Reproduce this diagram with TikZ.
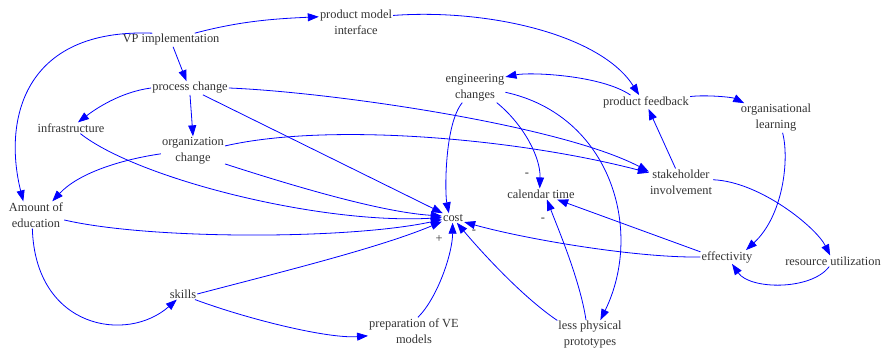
\documentclass[tikz,border=0pt]{standalone}
\usepackage{fontspec}
\setmainfont{Liberation Serif}
\usetikzlibrary{arrows.meta}
\begin{document}
\begin{tikzpicture}[x=1pt,y=-1pt,
  lbl/.style={font=\fontsize{12.4}{16}\selectfont, text=black!80, inner sep=1pt, align=center},
  sgn/.style={font=\fontsize{12.4}{16}\selectfont, text=black!80, inner sep=0pt},
  link/.style={draw=blue, line width=0.8pt, -{Triangle[length=11pt,width=8pt]}}]
\useasboundingbox (0,0) rectangle (884,352);
% nodes
\node[lbl] (vp)   at (171,40)  {VP implementation};
\node[lbl] (pmi)  at (356,22)  {product model\\interface};
\node[lbl] (pc)   at (190,88)  {process change};
\node[lbl] (inf)  at (71,128)  {infrastructure};
\node[lbl] (oc)   at (193,151) {organization\\change};
\node[lbl] (aoe)  at (36,215)  {Amount of\\education};
\node[lbl] (sk)   at (183,294) {skills};
\node[lbl] (prep) at (414,331) {preparation of VE\\models};
\node[lbl] (cost) at (453,218) {cost};
\node[lbl] (cal)  at (541,194) {calendar time};
\node[lbl] (eng)  at (475,88)  {engineering\\changes};
\node[lbl] (pf)   at (646,102) {product feedback};
\node[lbl] (ol)   at (776,118) {organisational\\learning};
\node[lbl] (sh)   at (681,182) {stakeholder\\involvement};
\node[lbl] (eff)  at (727,257) {effectivity};
\node[lbl] (ru)   at (833,261) {resource utilization};
\node[lbl] (lpp)  at (590,335) {less physical\\prototypes};
% signs
\node[sgn] (s1) at (527,175) {-};
\node[sgn] (s2) at (543,220) {-};
\node[sgn] (s3) at (439,239) {+};
\node[sgn] (s4) at (474,232) {-};
% links
\draw[link] (vp.16) .. controls +(45,-12) and +(-45,2) .. (pmi.172);
\draw[link] (vp.160) .. controls +(-130,-5) and +(-20,-80) .. (aoe.133);
\draw[link] (vp.-73) -- (pc.117);
\draw[link] (pc.west) .. controls +(-31,4) and +(17,-13) .. (inf.39);
\draw[link] (pc.south) -- (oc.north);
\draw[link] (pc.-28) -- (cost.155);
\draw[link] (pc.east) .. controls +(100,4) and +(-90,-47) .. (sh.162);
\draw[link] (oc.9) .. controls +(105,-24) and +(-130,-34) .. (sh.164);
\draw[link] (oc.185) .. controls +(-41,6) and +(26,-28) .. (aoe.40);
\draw[link] (oc.-22) .. controls +(65,21) and +(-62,-4) .. (cost.170);
\draw[link] (inf.-31) .. controls +(57,45) and +(-122,7) .. (cost.178);
\draw[link] (aoe.-10) .. controls +(86,20) and +(-92,20) .. (cost.188);
\draw[link] (aoe.-105) .. controls +(3,100) and +(-50,44) .. (sk.222);
\draw[link] (sk.east) .. controls +(84,-22) and +(-62,26) .. (cost.198);
\draw[link] (sk.-25) .. controls +(54,20) and +(-40,3) .. (prep.186);
\draw[link] (prep.74) .. controls +(20,-20) and +(0,30) .. (cost.-95);
\draw[link] (eng.229) .. controls +(-18,22) and +(-4,-20) .. (cost.131);
\draw[link] (eng.-34) .. controls +(27,22) and +(1,-31) .. (cal.103);
\draw[link] (eng.-8) .. controls +(105,23) and +(44,-90) .. (lpp.55);
\draw[link] (pf.156) .. controls +(-29,-20) and +(25,-5) .. (eng.20);
\draw[link] (pmi.10) .. controls +(96,-7) and +(-38,-60) .. (pf.135);
\draw[link] (pf.7) .. controls +(15,-2) and +(-12,-6) .. (ol.155);
\draw[link] (sh.112) -- (pf.-70);
\draw[link] (ol.-66) .. controls +(7,27) and +(37,-34) .. (eff.20);
\draw[link] (sh.4) .. controls +(47,2) and +(-14,-28) .. (ru.117);
\draw[link] (ru.-124) .. controls +(-18,24) and +(18,26) .. (eff.-54);
\draw[link] (eff.169) -- (cal.-19);
\draw[link] (eff.west) .. controls +(-62,1) and +(65,18) .. (cost.-20);
\draw[link] (lpp.105) .. controls +(-6,-40) and +(11,29) .. (cal.-43);
\draw[link] (lpp.156) .. controls +(-37,-25) and +(21,25) .. (cost.-51);
\end{tikzpicture}
\end{document}
